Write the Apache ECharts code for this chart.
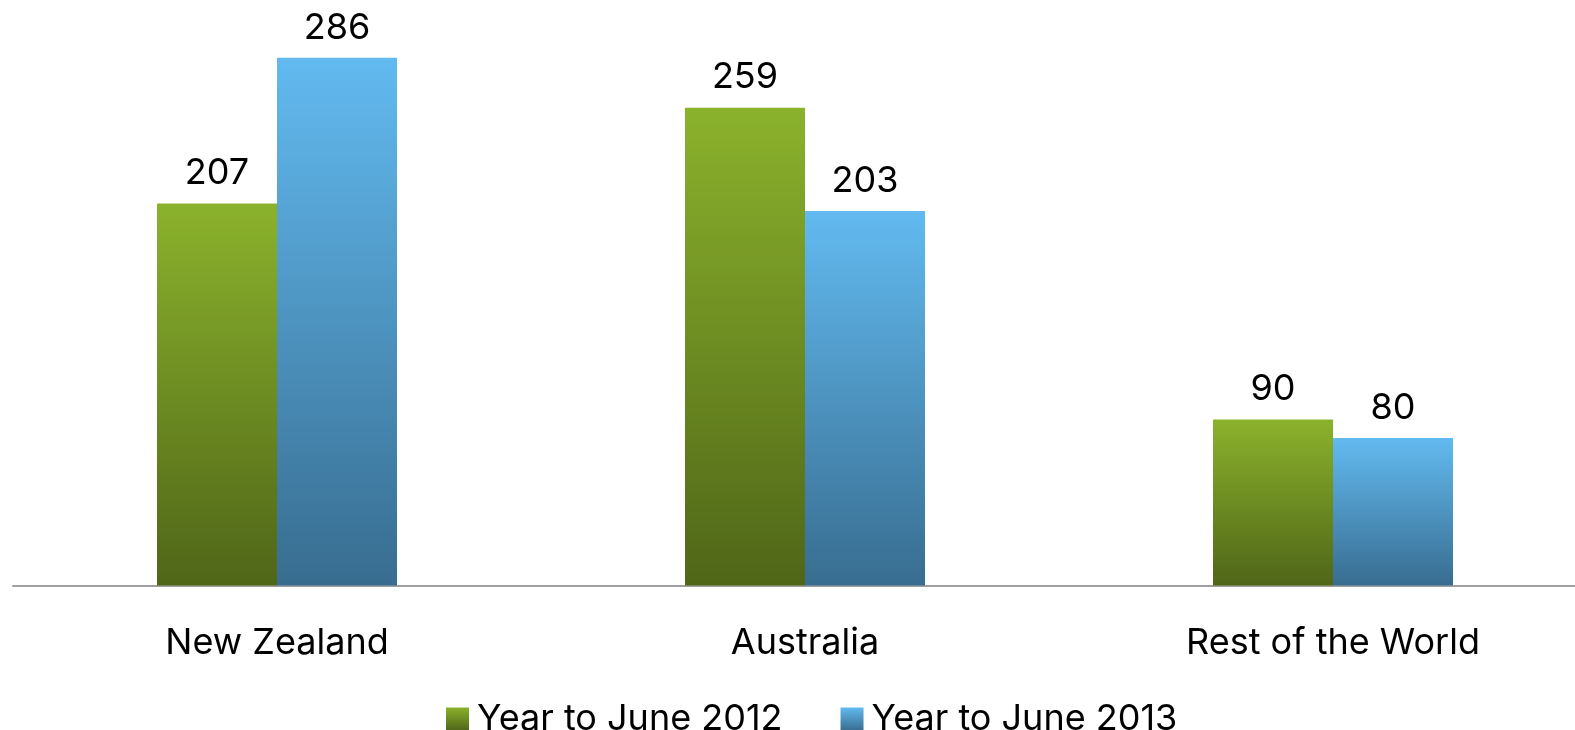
<!DOCTYPE html>
<html>
<head>
<meta charset="utf-8">
<script src="https://cdn.jsdelivr.net/npm/echarts@6/dist/echarts.min.js"></script>
<style>
  html, body { margin: 0; padding: 0; background: #fff; }
  #chartBox { width: 1575px; height: 730px; }
</style>
</head>
<body>
<div id="chartBox"></div>
<script>
var categories = ['New Zealand', 'Australia', 'Rest of the World'];
var seriesNames = ['Year to June 2012', 'Year to June 2013'];
var data2012 = [207, 259, 90];
var data2013 = [286, 203, 80];

function grad(top, bottom) {
  return new echarts.graphic.LinearGradient(0, 0, 0, 1, [
    {offset: 0, color: top},
    {offset: 1, color: bottom}
  ]);
}

var chart = echarts.init(document.getElementById('chartBox'));
var fontFam = 'Inter, "Noto Sans", sans-serif';

chart.setOption({
  animation: false,
  textStyle: {fontFamily: fontFam},
  legend: {
    data: seriesNames,
    left: 441,
    top: 696,
    itemWidth: 23,
    itemHeight: 23,
    itemGap: 58,
    icon: 'rect',
    textStyle: {fontSize: 36, color: '#000', fontFamily: fontFam, padding: [0, 0, 0, 3]}
  },
  grid: {
    left: 13,
    width: 1584,
    top: 32,
    height: 553.5,
    outerBoundsMode: 'none',
    containLabel: false
  },
  xAxis: {
    type: 'category',
    data: categories,
    axisTick: {show: false},
    axisLine: {lineStyle: {color: '#a0a0a0', width: 2}},
    axisLabel: {fontSize: 36, color: '#000', margin: 40, fontFamily: fontFam}
  },
  yAxis: {
    type: 'value',
    min: 0,
    max: 300,
    show: false,
    splitLine: {show: false}
  },
  series: [{
    name: seriesNames[0],
    type: 'bar',
    data: data2012,
    barWidth: 120,
    barGap: '0%',
    itemStyle: {color: grad('#8bb22c', '#4f6618')},
    label: {show: true, position: 'top', distance: 12, fontSize: 36, color: '#000', fontFamily: fontFam}
  }, {
    name: seriesNames[1],
    type: 'bar',
    data: data2013,
    barWidth: 120,
    barGap: '0%',
    itemStyle: {color: grad('#62baf0', '#386d90')},
    label: {show: true, position: 'top', distance: 12, fontSize: 36, color: '#000', fontFamily: fontFam}
  }]
});
</script>
</body>
</html>
